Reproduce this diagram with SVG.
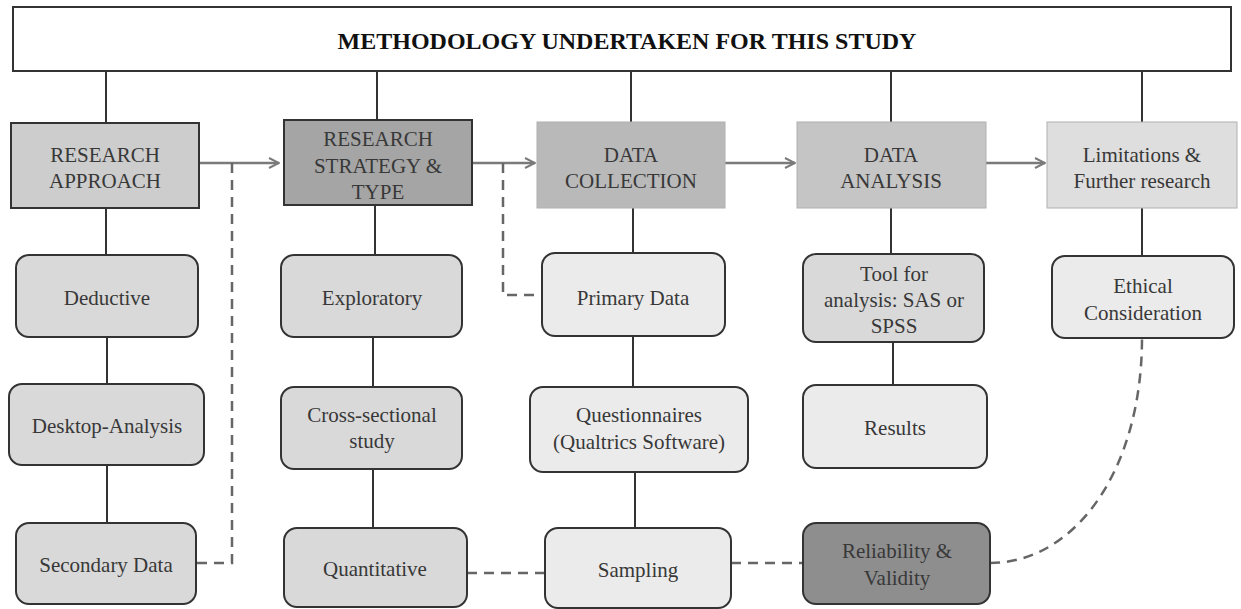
<svg xmlns="http://www.w3.org/2000/svg" width="1241" height="609" viewBox="0 0 1241 609" font-family="'Liberation Serif', 'Times New Roman', 'DejaVu Serif', serif">
  <style>
    text { font-family: 'Liberation Serif', 'Times New Roman', Tinos, 'DejaVu Serif', serif; font-size: 21px; fill: #383838; text-anchor: middle; }
    .title { font-size: 24px; font-weight: bold; fill: #111; }
    .stage { stroke: #333; stroke-width: 2; }
    .soft { stroke: #b0b0b0; stroke-width: 1; }
    .step { stroke: #333; stroke-width: 2; }
    .mid { fill: #d9d9d9; }
    .light { fill: #ebebeb; }
    .link { stroke: #333; stroke-width: 2; fill: none; }
    .flow { stroke: #7a7a7a; stroke-width: 2.5; fill: none; }
    .dash { stroke: #666; stroke-width: 2.5; fill: none; stroke-dasharray: 10 7; }
  </style>
  <defs>
    <marker id="arrow" viewBox="0 0 10 10" refX="9" refY="5" markerWidth="5" markerHeight="5" orient="auto" markerUnits="strokeWidth">
      <path d="M1,1 L9,5 L1,9" fill="none" stroke="#7a7a7a" stroke-width="1.6"/>
    </marker>
  </defs>

  <rect width="1241" height="609" fill="#ffffff"/>

  <!-- connectors -->
  <g id="connectors">
    <!-- title to stages -->
    <path class="link" d="M106,71 V123 M377,71 V120 M631,71 V122 M891,71 V122 M1142,71 V122"/>
    <!-- column links -->
    <path class="link" d="M106,208 V255 M107,337 V384 M107,465 V523"/>
    <path class="link" d="M375,205 V255 M373,337 V387 M373,469 V528"/>
    <path class="link" d="M633,208 V253 M633,336 V387 M635,472 V528"/>
    <path class="link" d="M891,208 V254 M893,342 V385"/>
    <path class="link" d="M1142,208 V256"/>
    <!-- stage flow arrows -->
    <path class="flow" d="M199,163 H279" marker-end="url(#arrow)"/>
    <path class="flow" d="M472,163 H535" marker-end="url(#arrow)"/>
    <path class="flow" d="M725,163 H795" marker-end="url(#arrow)"/>
    <path class="flow" d="M986,163 H1045" marker-end="url(#arrow)"/>
    <!-- dashed relations -->
    <path class="dash" d="M232,163 V563 H196"/>
    <path class="dash" d="M503,163 V295 H542"/>
    <path class="dash" d="M467,573 H545"/>
    <path class="dash" d="M731,563 H803"/>
    <path class="dash" d="M990,563 C1075,563 1142,470 1142,338"/>
  </g>

  <!-- title -->
  <g id="title">
    <rect x="13" y="7" width="1218" height="64" fill="#ffffff" stroke="#333" stroke-width="2"/>
    <text class="title" x="627" y="49">METHODOLOGY UNDERTAKEN FOR THIS STUDY</text>
  </g>

  <!-- stages -->
  <g id="research-approach">
    <rect class="stage" x="11" y="123" width="188" height="85" fill="#cdcdcd"/>
    <text x="105" y="162">RESEARCH</text>
    <text x="105" y="188">APPROACH</text>
  </g>
  <g id="research-strategy">
    <rect class="stage" x="284" y="120" width="188" height="85" fill="#a5a5a5"/>
    <text x="378" y="146">RESEARCH</text>
    <text x="378" y="173">STRATEGY &amp;</text>
    <text x="378" y="199">TYPE</text>
  </g>
  <g id="data-collection">
    <rect class="soft" x="537" y="122" width="188" height="86" fill="#b9b9b9"/>
    <text x="631" y="162">DATA</text>
    <text x="631" y="188">COLLECTION</text>
  </g>
  <g id="data-analysis">
    <rect class="soft" x="797" y="122" width="189" height="86" fill="#c5c5c5"/>
    <text x="891" y="162">DATA</text>
    <text x="891" y="188">ANALYSIS</text>
  </g>
  <g id="limitations">
    <rect class="soft" x="1047" y="122" width="190" height="86" fill="#dedede"/>
    <text x="1142" y="162">Limitations &amp;</text>
    <text x="1142" y="188">Further research</text>
  </g>

  <!-- column 1 -->
  <g id="deductive">
    <rect class="step mid" x="16" y="255" width="182" height="82" rx="13"/>
    <text x="107" y="305">Deductive</text>
  </g>
  <g id="desktop-analysis">
    <rect class="step mid" x="9" y="384" width="195" height="81" rx="13"/>
    <text x="107" y="433">Desktop-Analysis</text>
  </g>
  <g id="secondary-data">
    <rect class="step mid" x="16" y="523" width="180" height="81" rx="13"/>
    <text x="106" y="572">Secondary Data</text>
  </g>

  <!-- column 2 -->
  <g id="exploratory">
    <rect class="step mid" x="281" y="255" width="181" height="82" rx="13"/>
    <text x="372" y="305">Exploratory</text>
  </g>
  <g id="cross-sectional">
    <rect class="step mid" x="281" y="387" width="181" height="82" rx="13"/>
    <text x="372" y="422">Cross-sectional</text>
    <text x="372" y="448">study</text>
  </g>
  <g id="quantitative">
    <rect class="step mid" x="284" y="528" width="183" height="79" rx="13"/>
    <text x="375" y="576">Quantitative</text>
  </g>

  <!-- column 3 -->
  <g id="primary-data">
    <rect class="step light" x="542" y="253" width="183" height="83" rx="13"/>
    <text x="633" y="305">Primary Data</text>
  </g>
  <g id="questionnaires">
    <rect class="step light" x="530" y="387" width="218" height="85" rx="13"/>
    <text x="639" y="422">Questionnaires</text>
    <text x="639" y="449">(Qualtrics Software)</text>
  </g>
  <g id="sampling">
    <rect class="step light" x="545" y="528" width="186" height="80" rx="13"/>
    <text x="638" y="577">Sampling</text>
  </g>

  <!-- column 4 -->
  <g id="analysis-tool">
    <rect class="step mid" x="803" y="254" width="181" height="88" rx="13"/>
    <text x="894" y="281">Tool for</text>
    <text x="894" y="307">analysis: SAS or</text>
    <text x="894" y="333">SPSS</text>
  </g>
  <g id="results">
    <rect class="step light" x="803" y="385" width="184" height="83" rx="13"/>
    <text x="895" y="435">Results</text>
  </g>
  <g id="reliability-validity">
    <rect class="step" x="803" y="523" width="187" height="81" rx="13" fill="#8e8e8e"/>
    <text x="897" y="558">Reliability &amp;</text>
    <text x="897" y="585">Validity</text>
  </g>

  <!-- column 5 -->
  <g id="ethical-consideration">
    <rect class="step light" x="1052" y="256" width="182" height="82" rx="13"/>
    <text x="1143" y="293">Ethical</text>
    <text x="1143" y="320">Consideration</text>
  </g>
</svg>
